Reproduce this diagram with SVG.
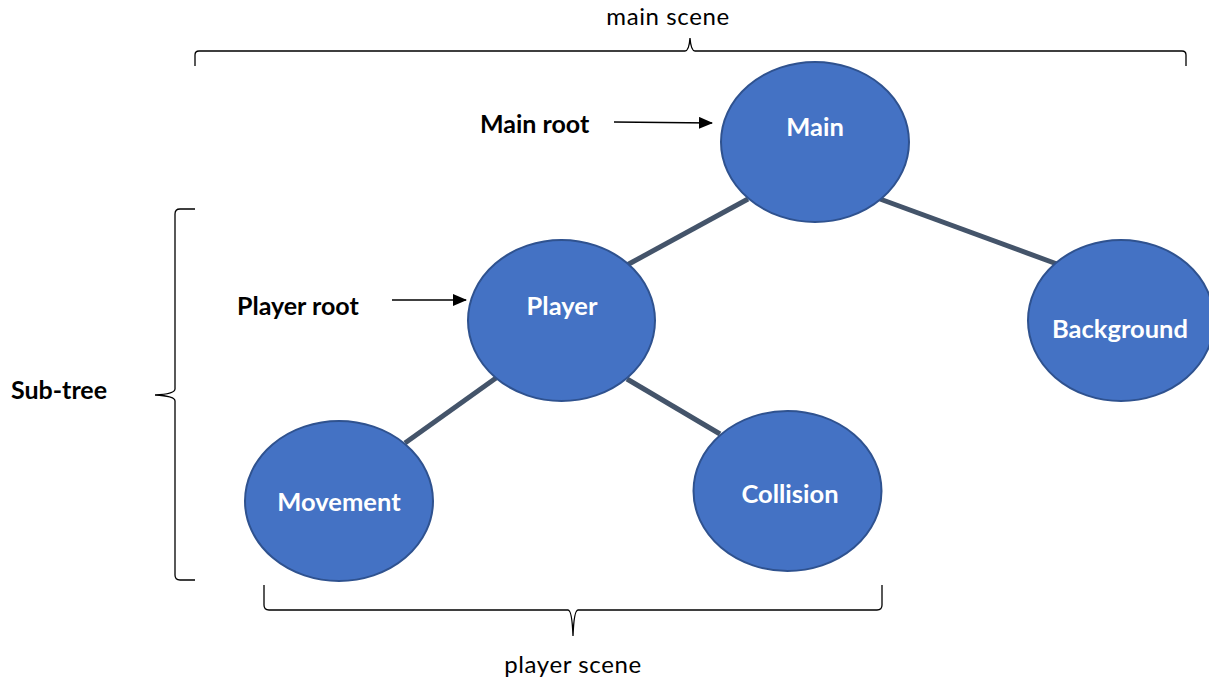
<svg xmlns="http://www.w3.org/2000/svg" width="1209" height="681" viewBox="0 0 1209 681">
<defs>
<marker id="ah" markerWidth="14" markerHeight="12" refX="13" refY="6" orient="auto" markerUnits="userSpaceOnUse"><path d="M0,0 L14,6 L0,12 z" fill="#000"/></marker>
<style>
.node ellipse{fill:#4472C4;stroke:#2F528F;stroke-width:2}
.node text{fill:#fff;font-family:Lato,"Open Sans",sans-serif;font-weight:bold;font-size:25.5px;text-anchor:middle}
.edge{stroke:#44546A;stroke-width:5}
.brace{fill:none;stroke:#000;stroke-width:1.3}
.lbl{font-family:Lato,"Open Sans",sans-serif;font-weight:bold;font-size:25px;fill:#000}
.cap{font-family:Lato,"Open Sans",sans-serif;font-size:24px;letter-spacing:0.6px;fill:#000;text-anchor:middle}
.arr{stroke:#000;stroke-width:1.3;marker-end:url(#ah)}
</style>
</defs>
<rect width="1209" height="681" fill="#fff"/>
<g id="connectors">
<line class="edge" x1="748" y1="199" x2="627" y2="265"/>
<line class="edge" x1="880" y1="199" x2="1057" y2="264"/>
<line class="edge" x1="496" y1="378" x2="405" y2="443"/>
<line class="edge" x1="627" y1="379" x2="720" y2="434"/>
<line class="arr" x1="614" y1="122" x2="712" y2="123"/>
<line class="arr" x1="392" y1="300" x2="466" y2="300"/>
</g>
<g id="main" class="node"><ellipse cx="815" cy="142" rx="94" ry="80"/><text x="815" y="136">Main</text></g>
<g id="player" class="node"><ellipse cx="561.5" cy="320.5" rx="93.5" ry="80.5"/><text x="562" y="315">Player</text></g>
<g id="background" class="node"><ellipse cx="1121" cy="320.5" rx="93" ry="80.5"/><text x="1120" y="338">Background</text></g>
<g id="movement" class="node"><ellipse cx="339" cy="501" rx="94" ry="80"/><text x="339" y="511">Movement</text></g>
<g id="collision" class="node"><ellipse cx="787.5" cy="491" rx="94" ry="80"/><text x="790" y="503">Collision</text></g>
<g id="labels">
<text class="lbl" x="480" y="133">Main root</text>
<text class="lbl" x="237" y="315">Player root</text>
<text class="lbl" x="11" y="399">Sub-tree</text>
<text class="cap" x="668" y="25">main scene</text>
<text class="cap" x="573" y="673">player scene</text>
</g>
<g id="braces">
<path class="brace" d="M195,66 L195,55 Q195,51 199,51 L685,51 Q689,51 690,38 Q691,51 695,51 L1182,51 Q1186,51 1186,55 L1186,66"/>
<path class="brace" d="M195,209 L180,209 Q175,209 175,214 L175,389 Q175,394 155,395 Q175,396 175,401 L175,575 Q175,580 180,580 L195,580"/>
<path class="brace" d="M264,585 L264,605 Q264,610 269,610 L568,610 Q572,610 573,636 Q574,610 578,610 L877,610 Q882,610 882,605 L882,585"/>
</g>
</svg>
